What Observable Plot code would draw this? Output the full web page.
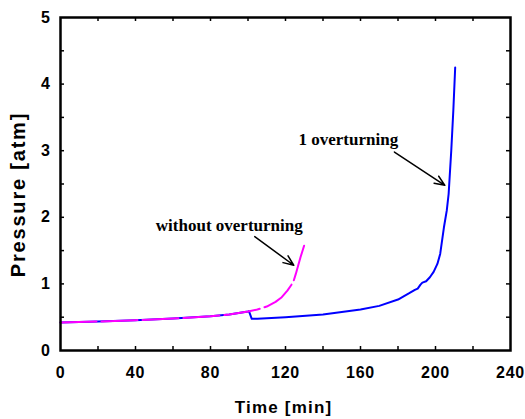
<!DOCTYPE html>
<html><head><meta charset="utf-8">
<script src="https://cdn.jsdelivr.net/npm/d3@7"></script>
<script src="https://cdn.jsdelivr.net/npm/@observablehq/plot@0.6"></script>
<style>body{margin:0;background:#fff} svg{display:block}</style>
</head><body><div id="chart"></div>
<script>
// ---- data ----
const oneTime =     [0, 20, 40, 60, 80, 90, 100, 100.5, 102, 105, 120, 140, 160, 170, 180, 186, 189, 190.5, 192, 193, 195, 197, 199, 201, 202.5, 203.5, 204.5, 206, 207, 208.4, 209.5, 210.5];
const onePressure = [0.42, 0.435, 0.455, 0.48, 0.515, 0.54, 0.585, 0.59, 0.475, 0.478, 0.5, 0.54, 0.615, 0.67, 0.765, 0.86, 0.91, 0.93, 0.99, 1.02, 1.04, 1.1, 1.18, 1.3, 1.45, 1.65, 1.85, 2.1, 2.35, 3.0, 3.6, 4.25];
const withoutTime =     [0, 20, 40, 60, 80, 90, 100, 105, 110, 114.7, 118, 121, 123, 124.4, 125.5, 126.5, 128, 130];
const withoutPressure = [0.42, 0.435, 0.455, 0.48, 0.515, 0.54, 0.585, 0.615, 0.66, 0.73, 0.8, 0.9, 0.98, 1.05, 1.15, 1.25, 1.4, 1.58];

const xTicks = [0, 40, 80, 120, 160, 200, 240];
const xMinorTicks = [20, 40, 60, 80, 100, 120, 140, 160, 180, 200, 220];
const yTicks = [0, 1, 2, 3, 4, 5];
const yMinorTicks = [0.5, 1, 1.5, 2, 2.5, 3, 3.5, 4, 4.5];

const labelText = ["without overturning", "1 overturning"];
const labelTime = [90, 153.5];
const labelPressure = [1.787, 3.093];
const arrowFromTime = [103.6, 178.1];
const arrowFromPressure = [1.71, 2.98];
const arrowToTime = [124.4, 205];
const arrowToPressure = [1.28, 2.48];

const oneData = oneTime.map((t, i) => ({t, p: onePressure[i]}));
const withoutData = withoutTime.map((t, i) => ({t, p: withoutPressure[i]}));
const labels = labelText.map((s, i) => ({s, t: labelTime[i], p: labelPressure[i]}));
const arrows = arrowFromTime.map((t, i) => ({x1: t, y1: arrowFromPressure[i], x2: arrowToTime[i], y2: arrowToPressure[i]}));

const plotH = 419 - 17 - 69;
const plotW = 525 - 60 - 15;
const TL = 4;
const spaced = (ls) => (index, scales, values, dims, ctx, next) => {
  const g = next(index, scales, values, dims, ctx);
  if (g) g.setAttribute("letter-spacing", ls);
  return g;
};

const chart = Plot.plot({
  width: 525, height: 419,
  marginLeft: 60, marginRight: 15, marginTop: 17, marginBottom: 69,
  style: {fontFamily: "'Liberation Sans', Arial, sans-serif", background: "#fff", color: "#000"},
  x: {domain: [0, 240], axis: null},
  y: {domain: [0, 5], axis: null},
  marks: [
    Plot.tickX(xMinorTicks, {x: d => d, insetTop: plotH - TL, stroke: "#000", strokeWidth: 1.5}),
    Plot.tickX(xMinorTicks, {x: d => d, insetBottom: plotH - TL, stroke: "#000", strokeWidth: 1.5}),
    Plot.tickY(yMinorTicks, {y: d => d, insetRight: plotW - TL, stroke: "#000", strokeWidth: 1.5}),
    Plot.tickY(yMinorTicks, {y: d => d, insetLeft: plotW - TL, stroke: "#000", strokeWidth: 1.5}),
    Plot.line(oneData, {x: "t", y: "p", stroke: "#0000ff", strokeWidth: 2}),
    Plot.line(withoutData, {x: "t", y: "p", stroke: "#ff00ff", strokeWidth: 2, strokeDasharray: "36,5"}),
    Plot.arrow(arrows, {x1: "x1", y1: "y1", x2: "x2", y2: "y2", stroke: "#000", strokeWidth: 1.5, headLength: 11, headAngle: 45}),
    Plot.text(labels, {x: "t", y: "p", text: "s", lineAnchor: "bottom", textAnchor: "middle",
      fontFamily: "'Liberation Serif', 'Times New Roman', serif", fontWeight: "bold", fontSize: 17, fill: "#000"}),
    Plot.frame({stroke: "#000", strokeWidth: 2.5}),
    Plot.text(xTicks, {x: d => d, frameAnchor: "bottom", dy: 16, lineAnchor: "top", text: d => String(d),
      fontSize: 16, fontWeight: "bold", fill: "#000", render: spaced("0.8px")}),
    Plot.text(yTicks, {y: d => d, frameAnchor: "left", dx: -10, textAnchor: "end", text: d => String(d),
      fontSize: 16, fontWeight: "bold", fill: "#000", render: spaced("0.5px")}),
    Plot.text(["Time [min]"], {frameAnchor: "bottom", dy: 62, dx: -2, lineAnchor: "bottom", text: d => d,
      fontSize: 17, fontWeight: "bold", fill: "#000", render: spaced("1.2px")}),
    Plot.text(["Pressure [atm]"], {frameAnchor: "left", textAnchor: "middle", dx: -42, dy: 10.5, rotate: -90, text: d => d,
      fontSize: 20, fontWeight: "bold", fill: "#000", render: spaced("1.8px")})
  ]
});
document.getElementById("chart").appendChild(chart);
</script>
</body></html>
